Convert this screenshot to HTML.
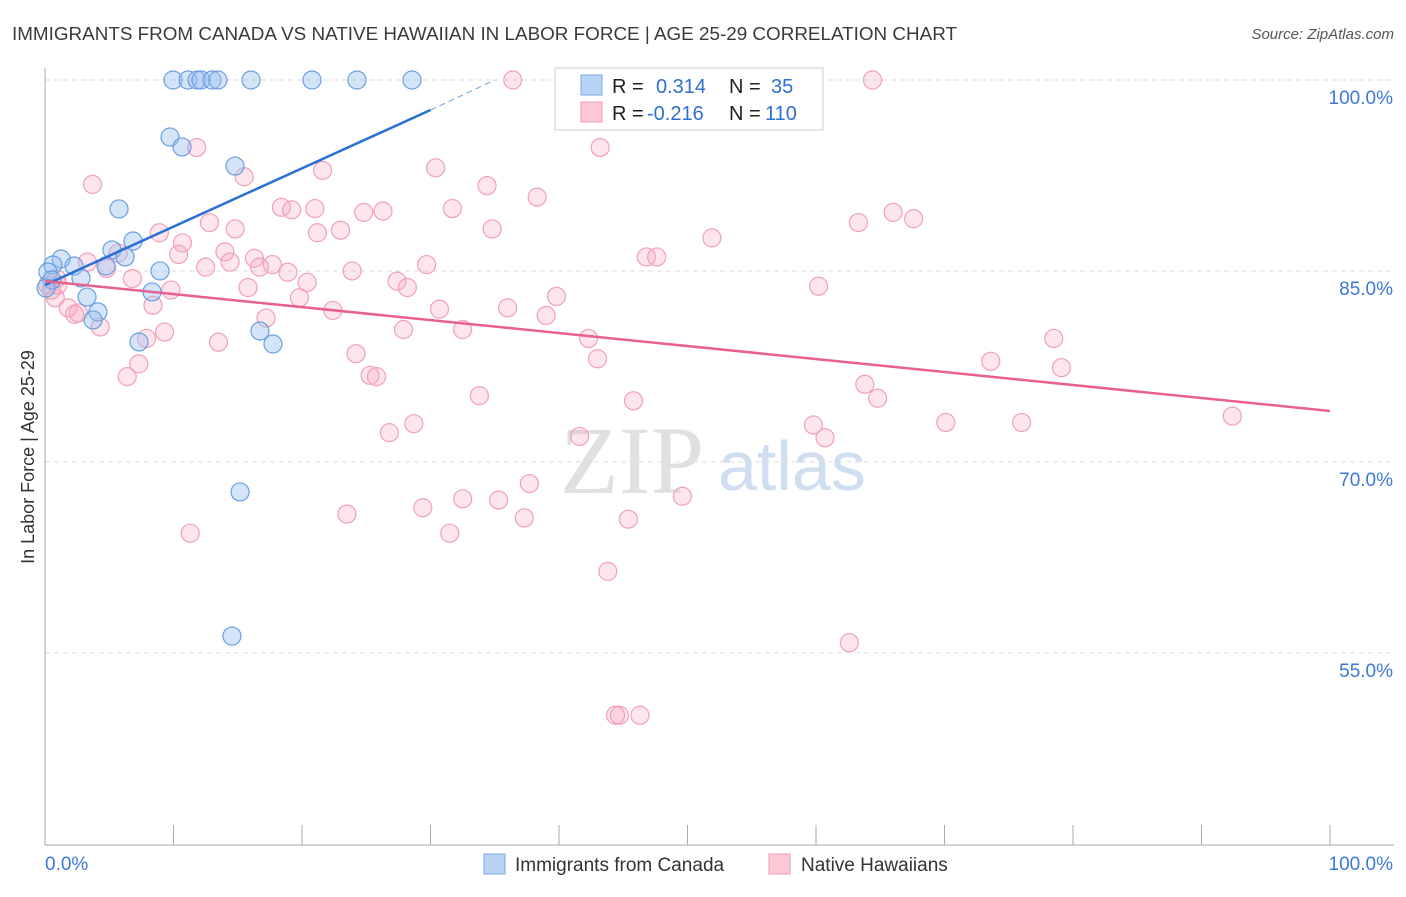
<!DOCTYPE html>
<html><head><meta charset="utf-8"><style>
body{margin:0;background:#fff;font-family:"Liberation Sans",sans-serif;}
</style></head><body>
<svg width="1406" height="892" xmlns="http://www.w3.org/2000/svg" id="chart" font-family="Liberation Sans, sans-serif">
<text x="12" y="40" font-size="18" fill="#3a3a3a" textLength="945" lengthAdjust="spacingAndGlyphs">IMMIGRANTS FROM CANADA VS NATIVE HAWAIIAN IN LABOR FORCE | AGE 25-29 CORRELATION CHART</text>
<text x="1394" y="39" font-size="15" fill="#555" text-anchor="end" font-style="italic">Source: ZipAtlas.com</text>
<text x="560" y="493" font-size="96" fill="#e0e0e0" font-family="Liberation Serif, serif">ZIP</text>
<text x="718" y="490" font-size="70" fill="#d0def2">atlas</text>
<g id="grid"></g>
<g id="axes"></g>
<g id="pts"></g>
<g id="lines"></g>
<text transform="translate(34,457) rotate(-90)" font-size="18" fill="#333" text-anchor="middle">In Labor Force | Age 25-29</text>
<g>
<rect x="555" y="68" width="268" height="62" fill="#fff" stroke="#ccc"/>
<rect x="581" y="75" width="21" height="20" fill="#b8d3f5" stroke="#7aa8e6"/>
<rect x="581" y="102" width="21" height="20" fill="#fcc8d6" stroke="#ef9ab3"/>
<text x="612" y="93" font-size="20" fill="#222">R = <tspan fill="#2e6fd0" x="656">0.314</tspan><tspan fill="#222" x="729">N = </tspan><tspan fill="#2e6fd0" x="771">35</tspan></text>
<text x="612" y="120" font-size="20" fill="#222">R = <tspan fill="#2e6fd0" x="647">-0.216</tspan><tspan fill="#222" x="729">N = </tspan><tspan fill="#2e6fd0" x="765">110</tspan></text>
</g>
<g>
<rect x="484" y="854" width="21" height="20" fill="#b8d3f5" stroke="#7aa8e6"/>
<text x="515" y="871" font-size="19" fill="#333">Immigrants from Canada</text>
<rect x="769" y="854" width="21" height="20" fill="#fcc8d6" stroke="#ef9ab3"/>
<text x="801" y="871" font-size="19" fill="#333">Native Hawaiians</text>
</g>
</svg>
<script>
const yTicks=[100,85,70,55];
const yTickLabels=["100.0%","85.0%","70.0%","55.0%"];
const xTicks=[0,10,20,30,40,50,60,70,80,90,100];
const canadaX=[9.96,11.13,11.83,12.14,13.0,13.46,16.03,20.78,24.28,28.56,9.73,10.66,14.79,5.76,6.85,5.21,6.23,4.75,8.95,1.25,0.62,2.26,0.23,0.54,2.8,0.08,3.27,8.33,4.12,3.74,7.32,16.73,17.74,15.18,14.55];
const canadaY=[100,100,100,100,100,100,100,100,100,100,95.52,94.74,93.24,89.87,87.35,86.65,86.1,85.39,85.0,85.94,85.47,85.39,84.92,84.29,84.45,83.66,82.95,83.35,81.78,81.15,79.42,80.28,79.26,67.64,56.32];
const hawX=[36.4,64.4,53.4,11.8,43.2,3.7,15.5,30.4,21.6,34.4,38.3,18.4,12.8,19.2,21.0,26.3,24.8,31.7,21.2,23.0,8.9,10.7,14.8,34.8,63.3,66.0,67.6,51.9,14.0,16.3,17.7,16.7,12.5,14.4,10.4,5.7,3.3,46.8,47.6,29.7,23.9,4.8,6.8,9.8,18.9,20.4,27.4,28.2,15.8,60.2,0.9,0.8,19.8,39.8,22.4,30.7,36.0,39.0,1.8,2.6,2.3,8.4,4.3,7.9,9.3,17.2,27.9,32.5,42.3,13.5,24.2,43.0,78.5,79.1,73.6,7.3,6.4,25.3,25.8,63.8,33.8,64.8,45.8,26.8,28.7,59.8,60.7,70.1,76.0,92.4,41.6,37.7,49.6,32.5,35.3,23.5,29.4,37.3,45.4,11.3,31.5,43.8,62.6,44.4,44.7,46.3,0.2,0.5,50.2,1.0];
const hawY=[100,100,97.6,94.7,94.7,91.8,92.4,93.1,92.9,91.7,90.8,90.0,88.8,89.8,89.9,89.7,89.6,89.9,88.0,88.2,88.0,87.2,88.3,88.3,88.8,89.6,89.1,87.6,86.5,86.0,85.5,85.3,85.3,85.7,86.3,86.4,85.7,86.1,86.1,85.5,85.0,85.2,84.4,83.5,84.9,84.1,84.2,83.7,83.7,83.8,84.4,82.9,82.9,83.0,81.9,82.0,82.1,81.5,82.1,81.7,81.6,82.3,80.6,79.7,80.2,81.3,80.4,80.4,79.7,79.4,78.5,78.1,79.7,77.4,77.9,77.7,76.7,76.8,76.7,76.1,75.2,75.0,74.8,72.3,73.0,72.9,71.9,73.1,73.1,73.6,72.0,68.3,67.3,67.1,67.0,65.9,66.4,65.6,65.5,64.4,64.4,61.4,55.8,50.1,50.1,50.1,83.9,83.5,100,83.9];
const canadaTrend=[0,83.9,30,97.64,35,100];
const hawTrend=[0,84.2,100,74.0];
const NS="http://www.w3.org/2000/svg";
const X=v=>45+v*12.85, Y=v=>80+(100-v)*12.73;
function mk(t,a,p){const e=document.createElementNS(NS,t);for(const k in a)e.setAttribute(k,a[k]);document.getElementById(p).appendChild(e);return e;}
yTicks.forEach((t,i)=>{
 const g=mk('line',{x1:45,x2:1394,y1:Y(t),y2:Y(t),stroke:'#dcdcdc','stroke-dasharray':'5,4'},'grid');
 
 
 const l=mk('text',{x:1393,y:Y(t)+24,'font-size':19,fill:'#3d78d6','text-anchor':'end'},'axes');
 l.textContent=yTickLabels[i];
 
 
});
const ya=mk('line',{x1:45,x2:45,y1:68,y2:845,stroke:'#aaa'},'axes');


const xa=mk('line',{x1:45,x2:1394,y1:845,y2:845,stroke:'#aaa'},'axes');


xTicks.forEach(t=>{const e=mk('line',{x1:X(t),x2:X(t),y1:825,y2:845,stroke:'#aaa'},'axes');
 
 });
const xl0=mk('text',{x:45,y:870,'font-size':19,fill:'#3d78d6'},'axes');xl0.textContent='0.0%';


const xl1=mk('text',{x:1393,y:870,'font-size':19,fill:'#3d78d6','text-anchor':'end'},'axes');xl1.textContent='100.0%';


hawX.forEach((v,i)=>{const c=mk('circle',{cx:X(v),cy:Y(hawY[i]),r:9,fill:'rgba(248,170,195,0.3)',stroke:'#f0a0b8','stroke-width':1.2},'pts');
 
 });
canadaX.forEach((v,i)=>{const c=mk('circle',{cx:X(v),cy:Y(canadaY[i]),r:9,fill:'rgba(150,190,240,0.4)',stroke:'#6a9fe0','stroke-width':1.2},'pts');
 
 });
const b1=mk('line',{x1:X(canadaTrend[0]),y1:Y(canadaTrend[1]),x2:X(canadaTrend[2]),y2:Y(canadaTrend[3]),stroke:'#2a6fd6','stroke-width':2.5},'lines');


const b2=mk('line',{x1:X(canadaTrend[2]),y1:Y(canadaTrend[3]),x2:X(canadaTrend[4]),y2:Y(canadaTrend[5]),stroke:'#6a9fe0','stroke-width':1,'stroke-dasharray':'6,4'},'lines');


const p1=mk('line',{x1:X(hawTrend[0]),y1:Y(hawTrend[1]),x2:X(hawTrend[2]),y2:Y(hawTrend[3]),stroke:'#e8608e','stroke-width':2.5},'lines');


</script>
</body></html>
